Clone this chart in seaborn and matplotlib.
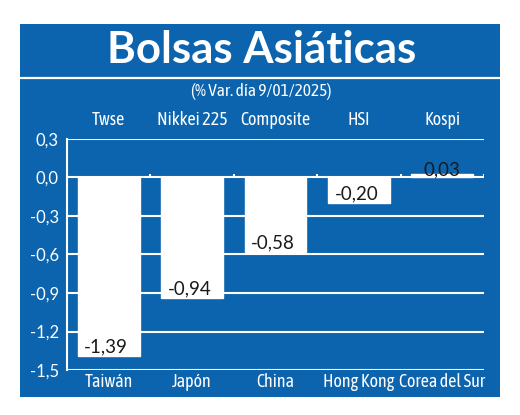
import numpy as np
import pandas as pd
import matplotlib.pyplot as plt
import seaborn as sns
from matplotlib.patches import Rectangle

countries = ['Taiwán', 'Japón', 'China', 'Hong Kong', 'Corea del Sur']
indices = ['Twse', 'Nikkei 225', 'Composite', 'HSI', 'Kospi']
changes = [-1.39, -0.94, -0.58, -0.20, 0.03]
y_ticks = [0.3, 0.0, -0.3, -0.6, -0.9, -1.2, -1.5]

BLUE = '#0B64AD'
NUM_FONT = ['Lato', 'DejaVu Sans']

sns.set_theme(style='white')
plt.rcParams['font.family'] = ['Asap Condensed', 'DejaVu Sans']

fig = plt.figure(figsize=(5.2, 4.15), dpi=100)
fig.patch.set_facecolor('white')

# panel azul de fondo
fig.patches.append(Rectangle((20 / 520, 1 - 397 / 415), 480 / 520, 373 / 415,
                             transform=fig.transFigure, facecolor=BLUE,
                             edgecolor='none', zorder=-5))
fig.add_artist(plt.Line2D([20 / 520, 500 / 520], [1 - 78 / 415] * 2,
                          transform=fig.transFigure, color='white', lw=1.6))

fig.text(0.503, 1 - 50 / 415, 'Bolsas Asiáticas', ha='center', va='center',
         color='white', fontsize=31.5, fontweight='bold',
         family=['Lato', 'DejaVu Sans'])
fig.text(0.502, 1 - 92 / 415, '(% Var. día 9/01/2025)', ha='center', va='center',
         color='white', fontsize=12.5)

ax = fig.add_axes([67 / 520, 1 - 370 / 415, 417 / 520, 231 / 415])
ax.set_facecolor(BLUE)

df = pd.DataFrame({'pais': countries, 'var': changes})
sns.barplot(data=df, x='pais', y='var', color='white', saturation=1,
            width=0.74, ax=ax, zorder=3)

ax.set_ylim(-1.5, 0.3)
ax.set_xlim(-0.5, len(countries) - 0.5)
ax.set_yticks(y_ticks)
ax.set_yticklabels([f'{v:.1f}'.replace('.', ',') for v in y_ticks],
                   family=NUM_FONT)
ax.set_xlabel('')
ax.set_ylabel('')

for v in y_ticks:
    ax.axhline(v, color='white', lw=1.5, zorder=1)
ax.vlines(np.arange(len(countries)) + 0.5, 0, 0.03, color='white', lw=1.5, zorder=1)

for s in ['top', 'right', 'bottom']:
    ax.spines[s].set_visible(False)
ax.spines['left'].set_color('white')
ax.spines['left'].set_linewidth(1.5)

ax.tick_params(axis='y', colors='white', labelsize=12, length=0, pad=6)
ax.tick_params(axis='x', colors='white', labelsize=13, length=0, pad=2)

top = ax.secondary_xaxis('top')
top.set_xticks(range(len(indices)))
top.set_xticklabels(indices)
top.tick_params(colors='white', labelsize=13, length=0, pad=7)
top.spines['top'].set_visible(False)

for i, v in enumerate(changes):
    lab = f'{v:.2f}'.replace('.', ',')
    if v < 0:
        ax.text(i - 0.03, v + 0.07, lab, ha='center', va='center', color='#1a1a1a',
                fontsize=13.5, family=NUM_FONT, zorder=4)
    else:
        ax.text(i, v - 0.035, lab, ha='center', va='bottom', color='#1a1a1a',
                fontsize=13.5, family=NUM_FONT, zorder=4)

fig.savefig('out.png', dpi=100)
